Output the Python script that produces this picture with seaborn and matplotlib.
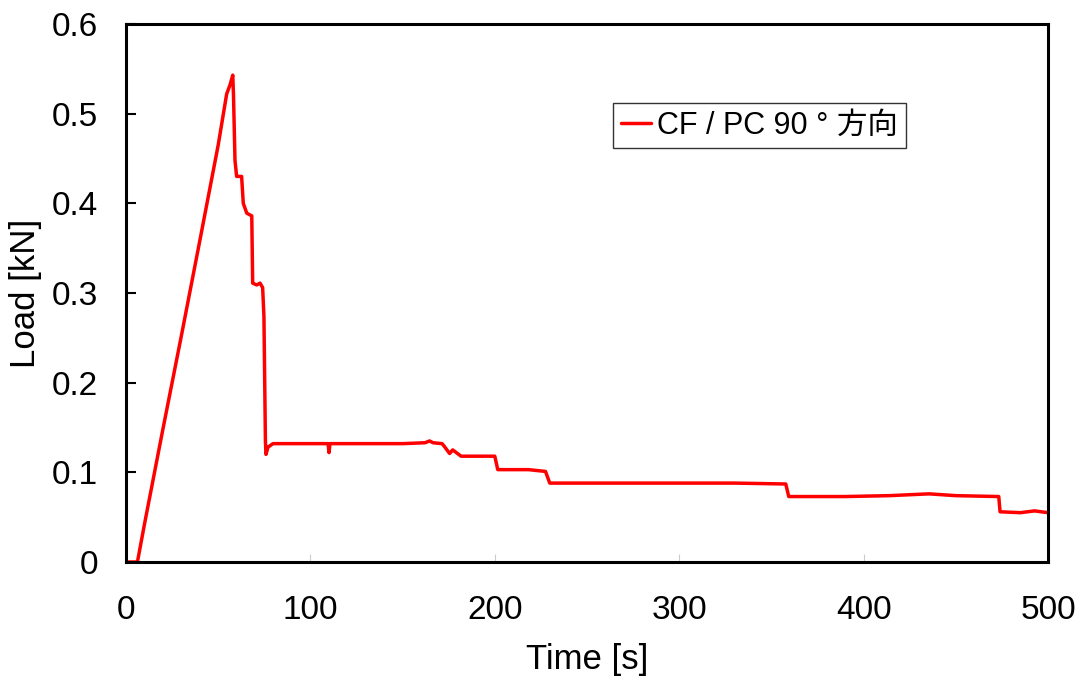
import matplotlib
matplotlib.use("Agg")
import matplotlib.pyplot as plt
import seaborn as sns
import pandas as pd

# Data (time in s, load in kN)
time_s = [0, 6.2, 10, 20, 30, 40, 50, 54.6, 56.4, 57.9, 58.3, 59.1, 60.0, 62.7, 63.6, 65.5,
          68.2, 68.7, 70.9, 72.7, 74.1, 74.8, 75.6, 75.9, 77.0, 79.7, 100, 109.6, 110.1, 110.6,
          130, 150, 162.2, 164.6, 166.5, 171.4, 172.6, 175.5, 177.2, 181.7, 200.0, 201.6,
          218.3, 227.5, 229.8, 260, 300, 330, 357.8, 359.4, 390, 414, 435.5, 450, 473.3, 474.0,
          485, 492.7, 500]
load_kn = [0, 0, 0.042, 0.148, 0.252, 0.358, 0.465, 0.522, 0.532, 0.543, 0.52, 0.448, 0.430, 0.430,
           0.400, 0.389, 0.386, 0.311, 0.309, 0.311, 0.306, 0.274, 0.136, 0.120, 0.128, 0.132,
           0.132, 0.132, 0.122, 0.132, 0.132, 0.132, 0.133, 0.135, 0.133, 0.132, 0.129, 0.121,
           0.125, 0.118, 0.118, 0.103, 0.103, 0.101, 0.088, 0.088, 0.088, 0.088, 0.087, 0.073,
           0.073, 0.074, 0.076, 0.074, 0.073, 0.056, 0.055, 0.057, 0.055]

series_label = "CF / PC 90 ° 方向"
x_ticks = [0, 100, 200, 300, 400, 500]
y_ticks = [0, 0.1, 0.2, 0.3, 0.4, 0.5, 0.6]
y_tick_labels = ["0", "0.1", "0.2", "0.3", "0.4", "0.5", "0.6"]

df = pd.DataFrame({"Time": time_s, "Load": load_kn, "series": series_label})

sns.set_style("ticks")
plt.rcParams["font.family"] = ["Liberation Sans", "Noto Sans CJK JP", "DejaVu Sans"]

fig = plt.figure(figsize=(10.85, 6.82), dpi=100)
ax = fig.add_axes([126 / 1085, 1 - 562 / 682, (1048 - 126) / 1085, (562 - 24) / 682])

sns.lineplot(data=df, x="Time", y="Load", hue="series", palette=["#FF0000"],
             linewidth=2.5, ax=ax, estimator=None, sort=False)

ax.set_xlim(0, 500)
ax.set_ylim(0, 0.6)
ax.set_xticks(x_ticks)
ax.set_xticklabels([str(v) for v in x_ticks])
ax.set_yticks(y_ticks)
ax.set_yticklabels(y_tick_labels)
ax.tick_params(axis="both", direction="in", labelsize=24, labelcolor="black")
ax.tick_params(axis="y", length=7.5, width=1.5, color="black", pad=20)
ax.tick_params(axis="x", length=6, width=0.8, color="#cccccc", pad=24)
for s in ax.spines.values():
    s.set_visible(True)
    s.set_color("black")
    s.set_linewidth(2.2)

ax.set_xlabel("Time [s]", fontsize=25, labelpad=12, color="black")
ax.set_ylabel("Load [kN]", fontsize=25, labelpad=7, color="black")

leg = ax.legend(loc="upper left", bbox_to_anchor=((613 - 126) / 922, 1 - (103 - 24) / 538),
                fontsize=22, frameon=True, fancybox=False, edgecolor="black",
                handlelength=1.0, handletextpad=0.2, borderpad=0.25, borderaxespad=0)
leg.get_frame().set_linewidth(1.0)
for t in leg.get_texts():
    t.set_color("black")

fig.savefig("out.png", dpi=100)
